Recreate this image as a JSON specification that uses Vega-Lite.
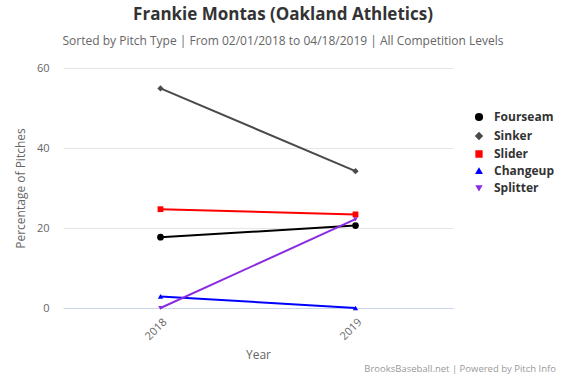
{
  "$schema": "https://vega.github.io/schema/vega-lite/v6.json",
  "width": 390,
  "height": 240,
  "autosize": {"type": "none"},
  "padding": {"left": 63, "top": 68, "right": 113, "bottom": 69},
  "background": "white",
  "config": {
    "font": "Open Sans",
    "view": {"stroke": null},
    "legend": {
      "orient": "none", "legendX": 410, "legendY": 43,
      "labelFontSize": 12, "labelFontWeight": "bold", "labelColor": "#333333",
      "rowPadding": 5, "symbolSize": 45, "labelOffset": 9
    }
  },
  "title": {
    "text": "Frankie Montas (Oakland Athletics)",
    "subtitle": "Sorted by Pitch Type | From 02/01/2018 to 04/18/2019 | All Competition Levels",
    "anchor": "middle",
    "dx": 25,
    "offset": 14,
    "fontSize": 17,
    "fontWeight": "bold",
    "color": "#333333",
    "subtitleFontSize": 12,
    "subtitleColor": "#666666",
    "subtitlePadding": 12
  },
  "data": {
    "values": [
      {"year": "2018", "pitch": "Fourseam", "pct": 17.7},
      {"year": "2019", "pitch": "Fourseam", "pct": 20.6},
      {"year": "2018", "pitch": "Sinker", "pct": 54.9},
      {"year": "2019", "pitch": "Sinker", "pct": 34.2},
      {"year": "2018", "pitch": "Slider", "pct": 24.7},
      {"year": "2019", "pitch": "Slider", "pct": 23.4},
      {"year": "2018", "pitch": "Changeup", "pct": 2.9},
      {"year": "2019", "pitch": "Changeup", "pct": 0.0},
      {"year": "2018", "pitch": "Splitter", "pct": 0.0},
      {"year": "2019", "pitch": "Splitter", "pct": 22.2}
    ]
  },
  "layer": [
    {
      "mark": {"type": "line", "strokeWidth": 2},
      "encoding": {
        "x": {
          "field": "year", "type": "ordinal",
          "scale": {"type": "point", "padding": 0.5},
          "axis": {
            "title": "Year", "titleFontSize": 12, "titleColor": "#666666", "titleFontWeight": "normal",
            "titlePadding": 8,
            "labelAngle": -45, "labelColor": "#666666", "labelFontSize": 11,
            "domainColor": "#ccd6eb", "ticks": false, "labelPadding": 8
          }
        },
        "y": {
          "field": "pct", "type": "quantitative",
          "scale": {"domain": [0, 60], "nice": false},
          "axis": {
            "title": "Percentage of Pitches", "titleFontSize": 12, "titleColor": "#666666", "titleFontWeight": "normal",
            "titlePadding": 9,
            "values": [0, 20, 40, 60], "labelColor": "#666666", "labelFontSize": 11,
            "domain": false, "ticks": false, "labelPadding": 14,
            "gridColor": "#e6e6e6"
          }
        },
        "color": {
          "field": "pitch", "type": "nominal",
          "scale": {
            "domain": ["Fourseam", "Sinker", "Slider", "Changeup", "Splitter"],
            "range": ["#000000", "#4a4a4a", "#ff0000", "#0000ff", "#8a2be2"]
          },
          "legend": {"title": null}
        }
      }
    },
    {
      "mark": {"type": "point", "filled": true, "opacity": 1},
      "encoding": {
        "x": {"field": "year", "type": "ordinal"},
        "y": {"field": "pct", "type": "quantitative"},
        "color": {
          "field": "pitch", "type": "nominal",
          "legend": {"title": null}
        },
        "shape": {
          "field": "pitch", "type": "nominal",
          "scale": {
            "domain": ["Fourseam", "Sinker", "Slider", "Changeup", "Splitter"],
            "range": ["circle", "diamond", "square", "triangle-up", "triangle-down"]
          },
          "legend": {"title": null}
        },
        "size": {
          "field": "pitch", "type": "nominal",
          "scale": {
            "domain": ["Fourseam", "Sinker", "Slider", "Changeup", "Splitter"],
            "range": [45, 22, 50, 40, 40]
          },
          "legend": null
        }
      }
    },
    {
      "data": {"values": [{"credit": "BrooksBaseball.net | Powered by Pitch Info"}]},
      "mark": {"type": "text", "align": "right", "baseline": "alphabetic", "fontSize": 9.5, "color": "#999999"},
      "encoding": {
        "text": {"field": "credit"},
        "x": {"value": 493},
        "y": {"value": 304}
      }
    }
  ]
}
